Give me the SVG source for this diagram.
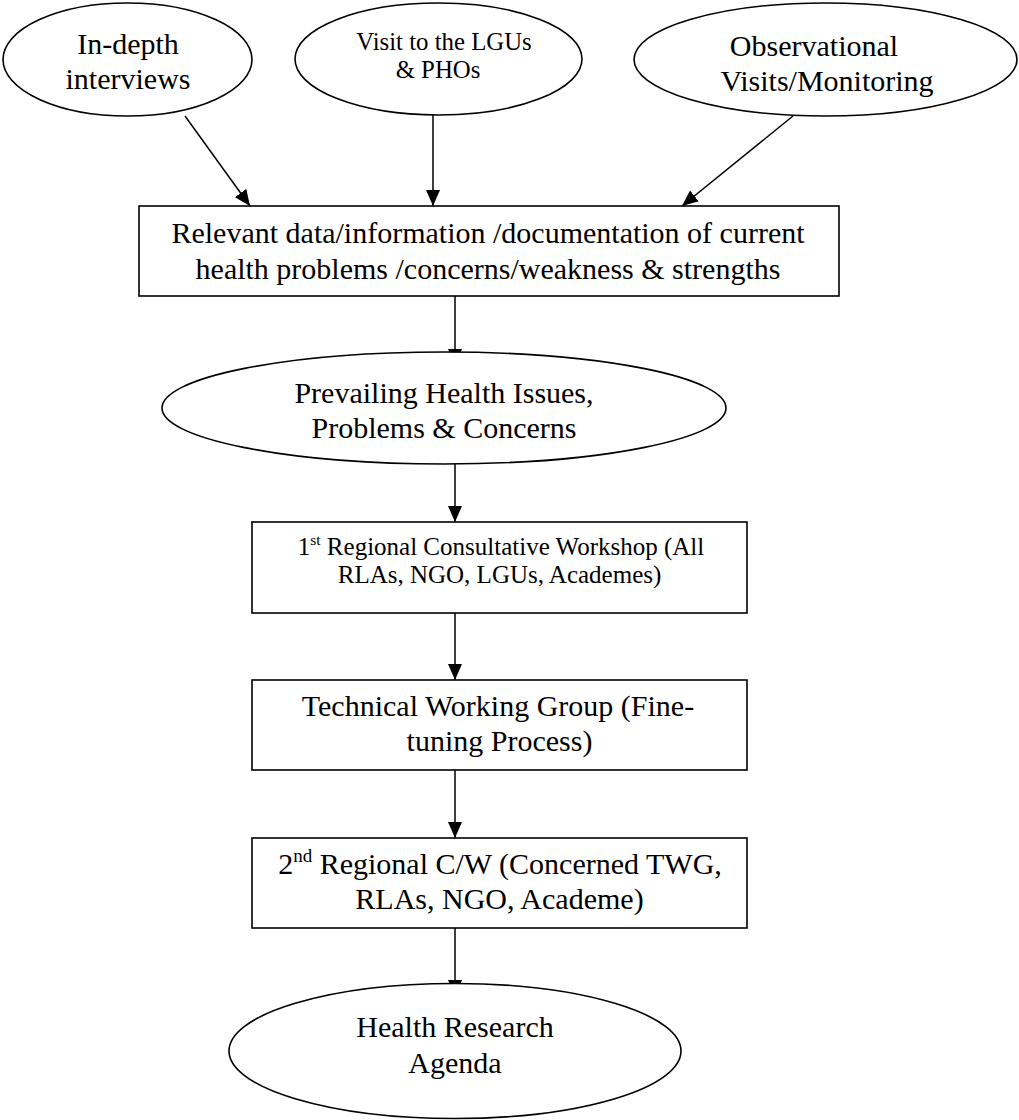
<svg xmlns="http://www.w3.org/2000/svg" width="1019" height="1120" viewBox="0 0 1019 1120">
<style>
  .shape { fill: #ffffff; stroke: #000000; stroke-width: 1.6; }
  .edge { fill: none; stroke: #000000; stroke-width: 1.5; }
  text { font-family: "Liberation Serif", "Times New Roman", serif; fill: #000000; text-anchor: middle; }
  .big { font-size: 30px; }
  .mid { font-size: 25px; }
  .small { font-size: 24.8px; }
</style>
<defs>
  <marker id="arrow" markerUnits="userSpaceOnUse" markerWidth="16" markerHeight="14" refX="16" refY="7" orient="auto">
    <path d="M0,0 L16,7 L0,14 z" fill="#000000"/>
  </marker>
</defs>
<rect width="1019" height="1120" fill="#ffffff"/>

<g id="connectors">
  <line class="edge" x1="185" y1="116" x2="250" y2="206" marker-end="url(#arrow)"/>
  <line class="edge" x1="433" y1="115" x2="433" y2="206" marker-end="url(#arrow)"/>
  <line class="edge" x1="793" y1="116" x2="682" y2="206" marker-end="url(#arrow)"/>
  <line class="edge" x1="455" y1="296" x2="455" y2="365" marker-end="url(#arrow)"/>
  <line class="edge" x1="455" y1="464" x2="455" y2="522" marker-end="url(#arrow)"/>
  <line class="edge" x1="455" y1="613" x2="455" y2="680" marker-end="url(#arrow)"/>
  <line class="edge" x1="455" y1="770" x2="455" y2="838" marker-end="url(#arrow)"/>
  <line class="edge" x1="455" y1="928" x2="455" y2="996" marker-end="url(#arrow)"/>
</g>

<g id="node-indepth">
  <ellipse class="shape" cx="127.5" cy="59.5" rx="124.5" ry="56.5"/>
  <text class="big" x="128" y="54">In-depth</text>
  <text class="big" x="128" y="89">interviews</text>
</g>

<g id="node-visit">
  <ellipse class="shape" cx="438.5" cy="59" rx="143.5" ry="56"/>
  <text class="small" x="444" y="50">Visit to the LGUs</text>
  <text class="small" x="438" y="78">&amp; PHOs</text>
</g>

<g id="node-observational">
  <ellipse class="shape" cx="825.5" cy="59.5" rx="191.5" ry="56.5"/>
  <text class="big" x="814" y="56">Observational</text>
  <text class="big" x="827" y="91">Visits/Monitoring</text>
</g>

<g id="node-relevant">
  <rect class="shape" x="139" y="206" width="700" height="90"/>
  <text class="big" x="488" y="243">Relevant data/information /documentation of current</text>
  <text class="big" x="488" y="279">health problems /concerns/weakness &amp; strengths</text>
</g>

<g id="node-prevailing">
  <ellipse class="shape" cx="444" cy="408" rx="282" ry="56"/>
  <text class="big" x="444" y="403">Prevailing Health Issues,</text>
  <text class="big" x="444" y="438">Problems &amp; Concerns</text>
</g>

<g id="node-first-workshop">
  <rect class="shape" x="252" y="522" width="495" height="91"/>
  <text class="mid" x="501" y="555">1<tspan font-size="15.5" dy="-10">st</tspan><tspan dy="10"> Regional Consultative Workshop (All</tspan></text>
  <text class="mid" x="499.5" y="583">RLAs, NGO, LGUs, Academes)</text>
</g>

<g id="node-twg">
  <rect class="shape" x="252" y="680" width="495" height="90"/>
  <text class="big" x="498" y="716">Technical Working Group (Fine-</text>
  <text class="big" x="499.5" y="751">tuning Process)</text>
</g>

<g id="node-second-workshop">
  <rect class="shape" x="252" y="838" width="495" height="90"/>
  <text class="big" x="500" y="874">2<tspan font-size="19" dy="-12">nd</tspan><tspan dy="12"> Regional C/W (Concerned TWG,</tspan></text>
  <text class="big" x="499.5" y="909">RLAs, NGO, Academe)</text>
</g>

<g id="node-agenda">
  <ellipse class="shape" cx="455" cy="1051" rx="226" ry="67.5"/>
  <text class="big" x="455" y="1037">Health Research</text>
  <text class="big" x="455" y="1073">Agenda</text>
</g>
</svg>
